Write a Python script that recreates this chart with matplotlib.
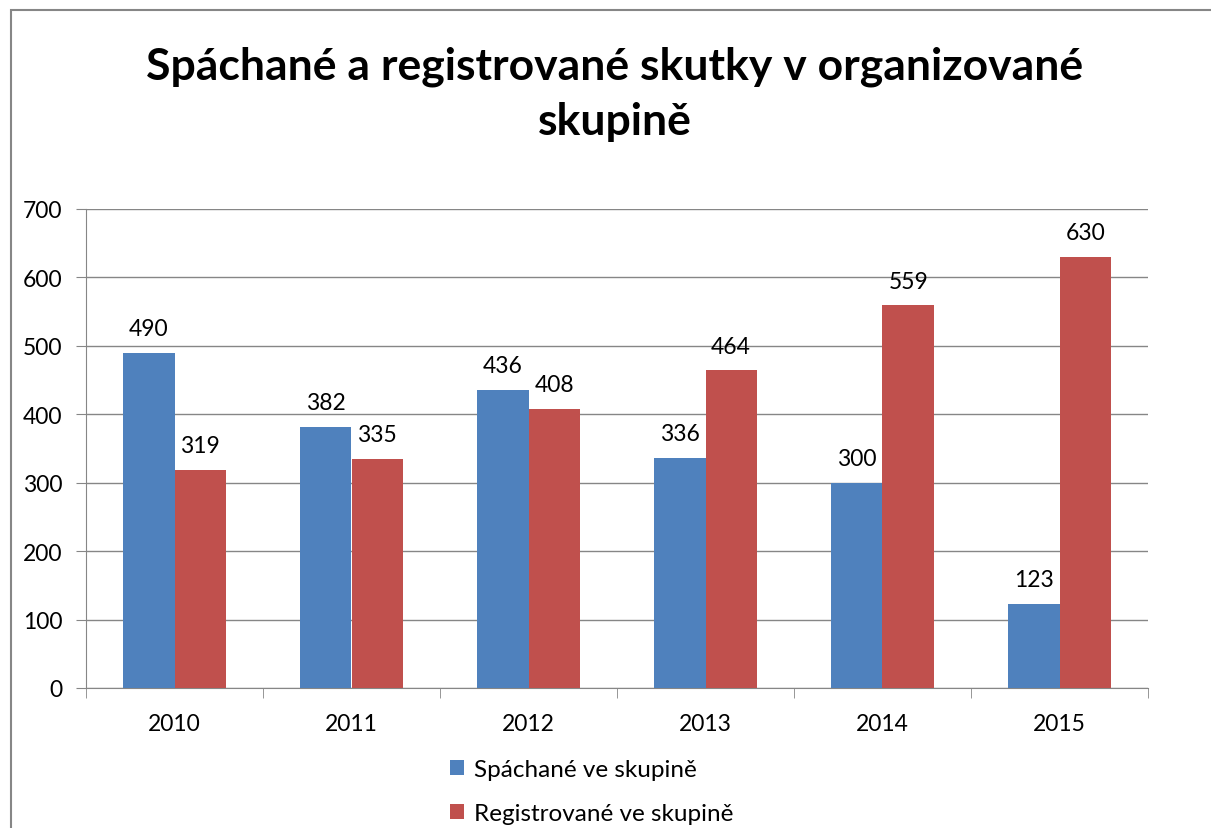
import matplotlib
matplotlib.use("Agg")
import matplotlib.pyplot as plt
from matplotlib.patches import Rectangle
import numpy as np

years = ["2010", "2011", "2012", "2013", "2014", "2015"]
spachane = [490, 382, 436, 336, 300, 123]
registrovane = [319, 335, 408, 464, 559, 630]
series_names = ["Spáchané ve skupině", "Registrované ve skupině"]
title_lines = ["Spáchané a registrované skutky v organizované", "skupině"]

blue = "#4F81BD"
red = "#C0504D"
font = ["Lato", "DejaVu Sans"]
plt.rcParams['font.family'] = font

W, H = 1211, 829
fig = plt.figure(figsize=(W / 100, H / 100), dpi=100)
ax = fig.add_axes([86 / W, 1 - 689 / H, (1148 - 86) / W, (689 - 210) / H])

x = np.arange(len(years))
bw = 0.29
b1 = ax.bar(x - bw / 2, spachane, bw, color=blue, label=series_names[0], zorder=3)
b2 = ax.bar(x + bw / 2, registrovane, bw, color=red, label=series_names[1], zorder=3)

for bars, vals in ((b1, spachane), (b2, registrovane)):
    for r, v in zip(bars, vals):
        ax.annotate(str(v), (r.get_x() + r.get_width() / 2, v), xytext=(0, 10),
                    textcoords="offset points", ha="center", va="bottom", fontsize=16.5)

ax.set_xlim(-0.5, len(years) - 0.5)
ax.set_ylim(0, 700)
ax.set_yticks(range(0, 701, 100))
ax.set_xticks(x)
ax.set_xticklabels(years)
ax.set_xticks(np.arange(-0.5, len(years), 1), minor=True)
ax.tick_params(axis="x", which="major", length=0, labelsize=16.5, pad=18)
ax.tick_params(axis="x", which="minor", length=7, color="#868686", direction="out")
ax.tick_params(axis="y", length=7, color="#868686", labelsize=16.5, pad=10)
ax.grid(axis="y", color="#868686", linewidth=1, zorder=0)
for s in ["top", "right"]:
    ax.spines[s].set_visible(False)
for s in ["left", "bottom"]:
    ax.spines[s].set_color("#868686")

fig.text(615 / W, 1 - 67 / H, title_lines[0], ha="center", va="center", fontsize=32,
         fontweight="bold")
fig.text(615 / W, 1 - 122 / H, title_lines[1], ha="center", va="center", fontsize=32,
         fontweight="bold")

leg = fig.legend(handles=[b1, b2], labels=series_names, loc="upper left",
                 bbox_to_anchor=(428 / W, 1 - 738 / H), frameon=False, fontsize=17.5,
                 handlelength=0.6, handleheight=0.6, handletextpad=0.4,
                 labelspacing=0.95)

fig.patches.append(Rectangle((11 / W, -0.05), 1.2, 1 - 11 / H + 0.05,
                             transform=fig.transFigure, fill=False,
                             edgecolor="#868686", linewidth=1.5))

fig.savefig("out.png", dpi=100)
